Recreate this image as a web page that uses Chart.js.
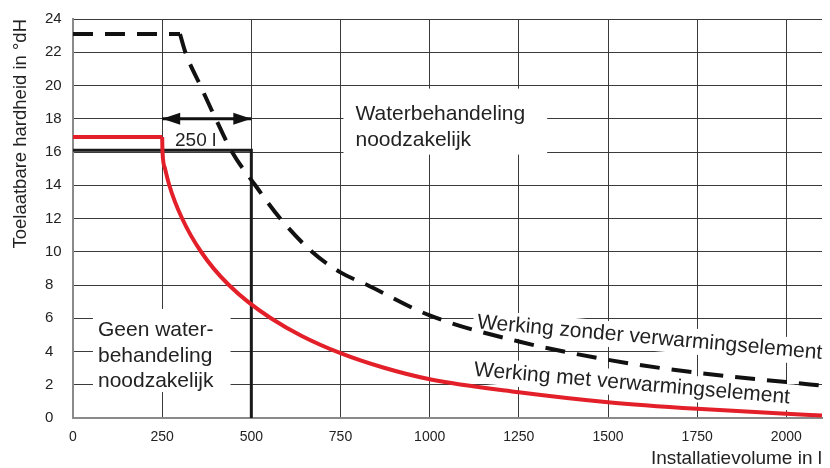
<!DOCTYPE html>
<html>
<head>
<meta charset="utf-8">
<script src="https://cdn.jsdelivr.net/npm/chart.js@4.4.1/dist/chart.umd.min.js"></script>
<style>
  html, body { margin: 0; padding: 0; background: #fff; }
  #wrap { width: 830px; height: 468px; }
</style>
</head>
<body>
<div id="wrap"><canvas id="chart"></canvas></div>
<script>
// Werking zonder verwarmingselement (dashed)
const zonderVolume = [0, 300, 315, 357, 400, 446, 511, 581, 670, 750, 825, 1000, 1250, 1500, 1750, 2000, 2100];
const zonderHardness = [23.1, 23.1, 22, 20, 18, 16, 14, 12, 10, 8.76, 8, 6.17, 4.6, 3.5, 2.72, 2.16, 1.95];

// Werking met verwarmingselement (red)
const metVolume = [0, 250, 251, 258, 270, 286, 306, 330, 359, 394, 437, 490, 555, 640, 750, 872, 1000, 1250, 1500, 1750, 2000, 2100];
const metHardness = [16.9, 16.9, 16, 15, 14, 13, 12, 11, 10, 9, 8, 7, 6, 4.95, 3.9, 3.02, 2.33, 1.55, 0.95, 0.55, 0.25, 0.15];

// boundary of "geen waterbehandeling" area
const limitVolume = [0, 500, 500];
const limitHardness = [16.1, 16.1, 0];

// 250 l arrow
const arrowVolume = [250, 500];
const arrowHardness = [18, 18];

const xTickValues = [0, 250, 500, 750, 1000, 1250, 1500, 1750, 2000];
const yTickStep = 2;

const toPoints = (xs, ys) => xs.map((x, i) => ({ x: x, y: ys[i] }));

// flat part is drawn straight, the falling part smooth
const zonderPoints = toPoints(zonderVolume, zonderHardness);
const metPoints = toPoints(metVolume, metHardness);

const textColor = '#222';
const fontFamily = "'Liberation Sans', Arial, sans-serif";
Chart.defaults.font.family = fontFamily;
Chart.defaults.color = textColor;

// text labels inside the plot (x/y in data units, baseline of first line)
const notes = [
  { lines: ['Waterbehandeling', 'noodzakelijk'], x: 792, y: 17.95, size: 21, lh: 26, angle: 0, mask: [12, 31, 22, 9] },
  { lines: ['Geen water-', 'behandeling', 'noodzakelijk'], x: 70, y: 4.93, size: 21, lh: 25.5, angle: 0, mask: [5, 27, 17, 5] },
  { lines: ['250 l'], x: 286, y: 16.35, size: 19, lh: 20, angle: 0, mask: null },
  { lines: ['Werking zonder verwarmingselement'], x: 1132, y: 5.4, size: 21, lh: 24, angle: 5.1, mask: [4, 19, 4, 7] },
  { lines: ['Werking met verwarmingselement'], x: 1123, y: 2.54, size: 21, lh: 24, angle: 5.0, mask: [4, 19, 4, 7] }
];

function eachNote(chart, fn) {
  const { ctx, scales } = chart;
  notes.forEach(n => {
    ctx.save();
    ctx.font = n.size + 'px ' + fontFamily;
    ctx.translate(scales.x.getPixelForValue(n.x), scales.y.getPixelForValue(n.y));
    ctx.rotate(n.angle * Math.PI / 180);
    fn(ctx, n);
    ctx.restore();
  });
}

const notesPlugin = {
  id: 'notes',
  beforeDatasetsDraw(chart) {
    eachNote(chart, (ctx, n) => {
      if (!n.mask) return;
      const w = Math.max(...n.lines.map(l => ctx.measureText(l).width));
      const [ml, mt, mr, mb] = n.mask;
      ctx.fillStyle = '#fff';
      ctx.fillRect(-ml, -mt, w + ml + mr, (n.lines.length - 1) * n.lh + mt + mb);
    });
  },
  afterDatasetsDraw(chart) {
    eachNote(chart, (ctx, n) => {
      ctx.fillStyle = textColor;
      ctx.textBaseline = 'alphabetic';
      ctx.textAlign = 'left';
      n.lines.forEach((l, i) => ctx.fillText(l, 0, i * n.lh));
    });
    // arrow heads on the 250 l arrow
    const pts = chart.getDatasetMeta(4).data;
    if (pts.length < 2) return;
    const ctx = chart.ctx;
    const head = (tip, dir) => {
      ctx.beginPath();
      ctx.moveTo(tip.x, tip.y);
      ctx.lineTo(tip.x + dir * 18, tip.y - 6);
      ctx.lineTo(tip.x + dir * 18, tip.y + 6);
      ctx.closePath();
      ctx.fill();
    };
    ctx.save();
    ctx.fillStyle = '#111';
    head(pts[0], 1);
    head(pts[1], -1);
    ctx.restore();
  }
};

new Chart(document.getElementById('chart'), {
  type: 'line',
  data: {
    datasets: [
      {
        data: zonderPoints.slice(0, 2),
        borderColor: '#111', borderWidth: 4, borderDash: [20, 12], pointRadius: 0
      },
      {
        data: zonderPoints.slice(1),
        borderColor: '#111', borderWidth: 4, borderDash: [20, 12], pointRadius: 0,
        cubicInterpolationMode: 'monotone'
      },
      {
        data: metPoints.slice(0, 2),
        borderColor: '#e3202a', borderWidth: 4, pointRadius: 0
      },
      {
        data: metPoints.slice(1),
        borderColor: '#e3202a', borderWidth: 4, pointRadius: 0,
        cubicInterpolationMode: 'monotone'
      },
      {
        data: toPoints(arrowVolume, arrowHardness),
        borderColor: '#111', borderWidth: 3, pointRadius: 0
      },
      {
        data: toPoints(limitVolume, limitHardness),
        borderColor: '#1a1a1a', borderWidth: 3, pointRadius: 0
      }
    ]
  },
  options: {
    responsive: true,
    maintainAspectRatio: false,
    animation: false,
    layout: { padding: { top: 15, right: 8, left: 45, bottom: 0 } },
    plugins: {
      legend: { display: false },
      tooltip: { enabled: false }
    },
    scales: {
      x: {
        type: 'linear',
        min: 0,
        max: 2100,
        afterBuildTicks: (scale) => {
          scale.ticks = xTickValues.map(v => ({ value: v }));
        },
        afterFit: (scale) => { scale.height = 50; },
        grid: { color: '#3a3a3a', lineWidth: 1, drawTicks: false },
        border: { color: '#8a8a8a', width: 2 },
        ticks: { font: { size: 14 }, padding: 11, maxRotation: 0, callback: (v) => String(v) },
        title: {
          display: true,
          text: 'Installatievolume in l',
          align: 'end',
          font: { size: 19, lineHeight: 1 },
          padding: { top: 0, bottom: 0 }
        }
      },
      y: {
        min: 0,
        max: 24,
        afterFit: (scale) => { scale.width = 28; },
        grid: { color: '#3a3a3a', lineWidth: 1, drawTicks: false },
        border: { color: '#8a8a8a', width: 2 },
        ticks: { stepSize: yTickStep, font: { size: 15 }, crossAlign: 'far', padding: 10, callback: (v) => String(v) },
        title: {
          display: true,
          text: 'Toelaatbare hardheid in °dH',
          align: 'end',
          font: { size: 18.5 },
          padding: { top: -35, bottom: 0 }
        }
      }
    }
  },
  plugins: [notesPlugin]
});
</script>
</body>
</html>
